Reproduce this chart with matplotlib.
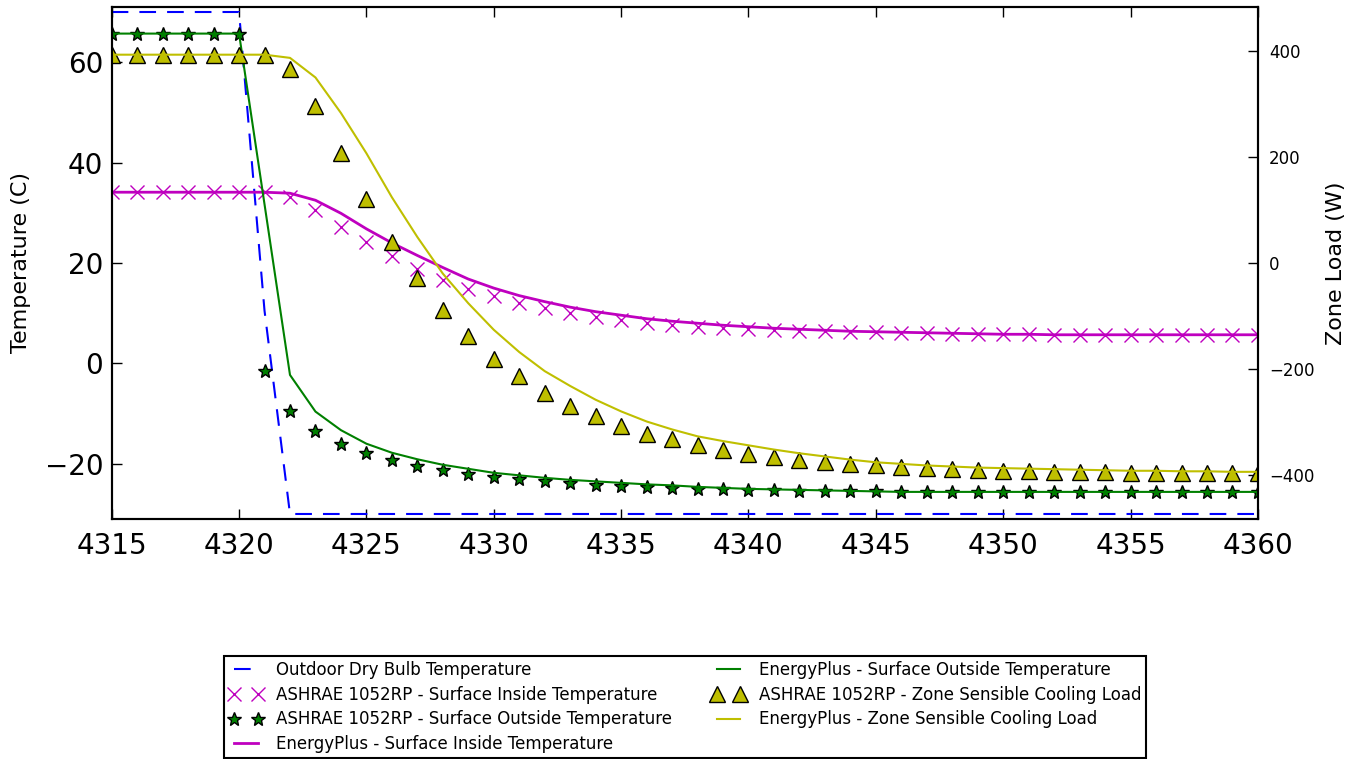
import matplotlib
matplotlib.use("Agg")
import matplotlib.pyplot as plt

plt.rcParams['font.family'] = ['DejaVu Sans']

hours = list(range(4315, 4361))

outdoor_drybulb = [70, 70, 70, 70, 70, 70, 10.5,
                   -30, -30, -30, -30, -30, -30, -30, -30, -30, -30,
                   -30, -30, -30, -30, -30, -30, -30, -30, -30, -30,
                   -30, -30, -30, -30, -30, -30, -30, -30, -30, -30,
                   -30, -30, -30, -30, -30, -30, -30, -30, -30]

ashrae_inside = [34.1, 34.1, 34.1, 34.1, 34.1, 34.1, 34.1,
                 33.2, 30.5, 27.2, 24.1, 21.4, 18.9, 16.7, 14.9, 13.4, 12.0,
                 11.0, 10.0, 9.3, 8.6, 8.1, 7.6, 7.3, 7.0, 6.8, 6.6,
                 6.5, 6.4, 6.2, 6.2, 6.1, 6.0, 5.9, 5.9, 5.8, 5.8,
                 5.7, 5.7, 5.7, 5.7, 5.7, 5.7, 5.7, 5.7, 5.7]

ashrae_outside = [65.7, 65.7, 65.7, 65.7, 65.7, 65.7,
                  -1.6, -9.5, -13.5, -16.1, -17.9, -19.3, -20.4, -21.2, -22.0, -22.6,
                  -23.0, -23.5, -23.9, -24.2, -24.4, -24.6, -24.8, -25.0, -25.1, -25.2,
                  -25.3, -25.4, -25.4, -25.5, -25.5,
                  -25.6, -25.6, -25.6, -25.6, -25.6, -25.6, -25.6, -25.6, -25.6, -25.6,
                  -25.6, -25.6, -25.6, -25.6, -25.6]

eplus_inside = [34.1, 34.1, 34.1, 34.1, 34.1, 34.1, 34.1,
                33.9, 32.5, 29.9, 26.8, 24.0, 21.5, 19.1, 16.8, 15.0, 13.5,
                12.3, 11.2, 10.3, 9.6, 8.9, 8.4, 8.0, 7.6, 7.3, 7.0,
                6.8, 6.6, 6.4, 6.3, 6.2, 6.1, 6.0, 5.9, 5.8, 5.8,
                5.7, 5.7, 5.7, 5.7, 5.7, 5.7, 5.7, 5.7, 5.7]

eplus_outside = [65.7, 65.7, 65.7, 65.7, 65.7, 65.7,
                 31.7, -2.3, -9.6, -13.3, -16.0, -17.8, -19.1, -20.2, -21.0, -21.8,
                 -22.3, -22.8, -23.2, -23.5, -23.8, -24.1, -24.3, -24.6, -24.8, -25.0,
                 -25.1, -25.2, -25.3, -25.4, -25.5,
                 -25.6, -25.6, -25.6, -25.6, -25.6, -25.6, -25.6, -25.6, -25.6, -25.6,
                 -25.6, -25.6, -25.6, -25.6, -25.6]

ashrae_load = [393, 393, 393, 393, 393, 393, 393,
               366, 297, 207, 121, 40, -29, -88, -138, -181, -214,
               -245, -270, -289, -307, -322, -333, -343, -353, -360, -366,
               -372, -376, -379, -382, -385, -387, -389, -391, -392, -393,
               -394, -395, -395, -396, -396, -396, -396, -396, -396]

eplus_load = [393, 393, 393, 393, 393, 393, 393,
              387, 350, 283, 207, 124, 49, -20, -76, -126, -168,
              -204, -232, -258, -280, -299, -314, -327, -336, -344, -352,
              -359, -365, -371, -376, -379, -382, -384, -386, -387, -388,
              -389, -390, -391, -392, -392, -393, -393, -394, -394]

labels = ["Outdoor Dry Bulb Temperature",
          "ASHRAE 1052RP - Surface Inside Temperature",
          "ASHRAE 1052RP - Surface Outside Temperature",
          "EnergyPlus - Surface Inside Temperature",
          "EnergyPlus - Surface Outside Temperature",
          "ASHRAE 1052RP - Zone Sensible Cooling Load",
          "EnergyPlus - Zone Sensible Cooling Load"]

x_ticks = [4315, 4320, 4325, 4330, 4335, 4340, 4345, 4350, 4355, 4360]
temp_ticks = [-20, 0, 20, 40, 60]
load_ticks = [-400, -200, 0, 200, 400]

fig = plt.figure(figsize=(13.57, 7.59), dpi=100)
ax1 = fig.add_axes([0.0823, 0.3162, 0.8447, 0.6746])
ax2 = ax1.twinx()

h = []
h += ax1.plot(hours, outdoor_drybulb, color=(0, 0, 1), lw=1.5, linestyle=(0, (8, 5.3)), label=labels[0])
h += ax1.plot(hours, ashrae_inside, linestyle='none', marker='x', color=(0.75, 0, 0.75), ms=10, mew=1.0, label=labels[1])
h += ax1.plot(hours, ashrae_outside, linestyle='none', marker='*', mfc=(0, 0.5, 0), mec='k', mew=1.0, ms=10, label=labels[2])
h += ax1.plot(hours, eplus_inside, color=(0.75, 0, 0.75), lw=2.0, label=labels[3])
h += ax1.plot(hours, eplus_outside, color=(0, 0.5, 0), lw=1.5, label=labels[4])
h += ax2.plot(hours, ashrae_load, linestyle='none', marker='^', mfc=(0.75, 0.75, 0), mec='k', mew=1.0, ms=11, label=labels[5])
h += ax2.plot(hours, eplus_load, color=(0.75, 0.75, 0), lw=1.5, label=labels[6])

ax1.set_xlim(4315, 4360)
ax1.set_ylim(-31, 71)
ax2.set_ylim(-483, 483)
ax1.set_xticks(x_ticks)
ax1.set_yticks(temp_ticks)
ax2.set_yticks(load_ticks)

for ax in (ax1, ax2):
    for s in ax.spines.values():
        s.set_linewidth(1.5)

ax1.tick_params(axis='x', direction='in', length=7, width=1, labelsize=20, pad=9, top=True)
ax1.tick_params(axis='y', direction='in', length=7, width=1, labelsize=20, pad=6)
ax2.tick_params(axis='y', direction='in', length=7, width=1, labelsize=12, pad=8)

ax1.set_ylabel("Temperature (C)", fontsize=16)
ax1.yaxis.set_label_coords(-0.0704, 0.5)
ax2.set_ylabel("Zone Load (W)", fontsize=16)
ax2.yaxis.set_label_coords(1.0594, 0.5)

leg = fig.legend(h, labels, loc='upper center', bbox_to_anchor=(0.505, 0.1357),
                 ncol=2, fontsize=12, numpoints=2, fancybox=False, framealpha=1,
                 edgecolor='k', borderaxespad=0, handlelength=2.0, handletextpad=0.8,
                 labelspacing=0.4, columnspacing=2.4, borderpad=0.3)
leg.get_frame().set_linewidth(1.5)

fig.savefig("out.png", dpi=100)
